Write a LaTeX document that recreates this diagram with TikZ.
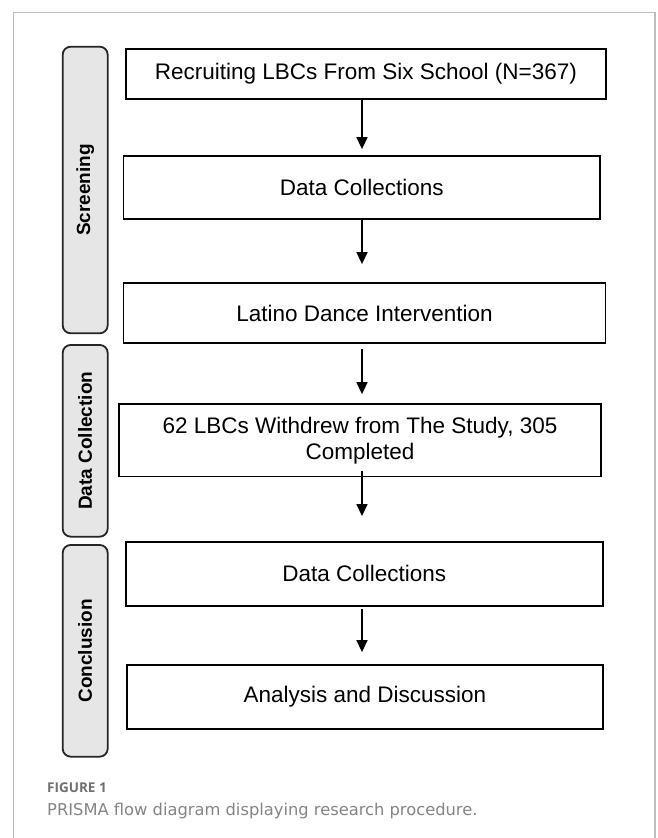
\documentclass[tikz,border=0pt]{standalone}
\usepackage{fontspec}
\setmainfont{Liberation Sans}
\newfontfamily\figfont{Open Sans}
\newfontfamily\capfont{DejaVu Sans}
\usetikzlibrary{arrows.meta}
\definecolor{lanefill}{HTML}{E6E6E6}
\definecolor{framec}{HTML}{BDBDBD}
\definecolor{capgray}{HTML}{707070}
\definecolor{captext}{HTML}{858585}
\begin{document}
\begin{tikzpicture}[x=1pt,y=-1pt,
  box/.style={draw, line width=1.8pt, inner sep=0pt, align=center,
    font=\fontsize{22.5}{26}\selectfont},
  lane/.style={draw=black!85, fill=lanefill, line width=1.8pt, rounded corners=8pt,
    inner sep=0pt, rotate=90, font=\bfseries\fontsize{19}{22}\selectfont},
  arr/.style={line width=1.5pt, -{Triangle[length=12pt,width=11pt]}},
  frame/.style={draw=framec, line width=1.2pt}]
\useasboundingbox (0,0) rectangle (658,838);
\fill[white] (0,0) rectangle (658,838);
% outer frame (open at bottom)
\draw[frame] (13.3,842) -- (13.3,12.3) -- (655,12.3) -- (655,842);
% lanes
\node[lane, minimum width=286.6pt, minimum height=45pt] (l1) at (85.2,190) {Screening};
\node[lane, minimum width=191.7pt, minimum height=45pt] (l2) at (85.2,440.8) {Data Collection};
\node[lane, minimum width=211.7pt, minimum height=45pt] (l3) at (85.2,650.8) {Conclusion};
% boxes
\node[box, minimum width=480.3pt, minimum height=50pt] (b1) at (365.9,74) {Recruiting LBCs From Six School (N=367)};
\node[box, minimum width=476.5pt, minimum height=63pt] (b2) at (361.8,187.2) {Data Collections};
\node[box, minimum width=482pt, minimum height=60.6pt] (b3) at (364.5,313) {Latino Dance Intervention};
\node[box, minimum width=482pt, minimum height=72.2pt] (b4) at (360,440.4) {62 LBCs Withdrew from The Study, 305\\Completed};
\node[box, minimum width=476.6pt, minimum height=63.7pt] (b5) at (364.3,573.8) {Data Collections};
\node[box, minimum width=475.3pt, minimum height=64pt] (b6) at (365,697) {Analysis and Discussion};
% arrows
\coordinate (ax) at (362,0);
\draw[arr, shorten >=5.7pt] (b1.south -| ax) -- (b2.north -| ax);
\draw[arr, shorten >=17.7pt] (b2.south -| ax) -- (b3.north -| ax);
\draw[arr, shorten <=4.7pt, shorten >=9.3pt] (b3.south -| ax) -- (b4.north -| ax);
\draw[arr, shorten <=-6.5pt, shorten >=25pt] (b4.south -| ax) -- (b5.north -| ax);
\draw[arr, shorten <=2.3pt, shorten >=12pt] (b5.south -| ax) -- (b6.north -| ax);
% caption
\node[anchor=base west, inner sep=0pt, text=capgray, font=\figfont\bfseries\fontsize{13.5}{15}\selectfont] (fig) at (47,792) {FIGURE 1};
\node[anchor=base west, inner sep=0pt, text=captext, font=\capfont\fontsize{16.3}{19}\selectfont] (cap) at (47,815) {PRISMA flow diagram displaying research procedure.};
\end{tikzpicture}
\end{document}
